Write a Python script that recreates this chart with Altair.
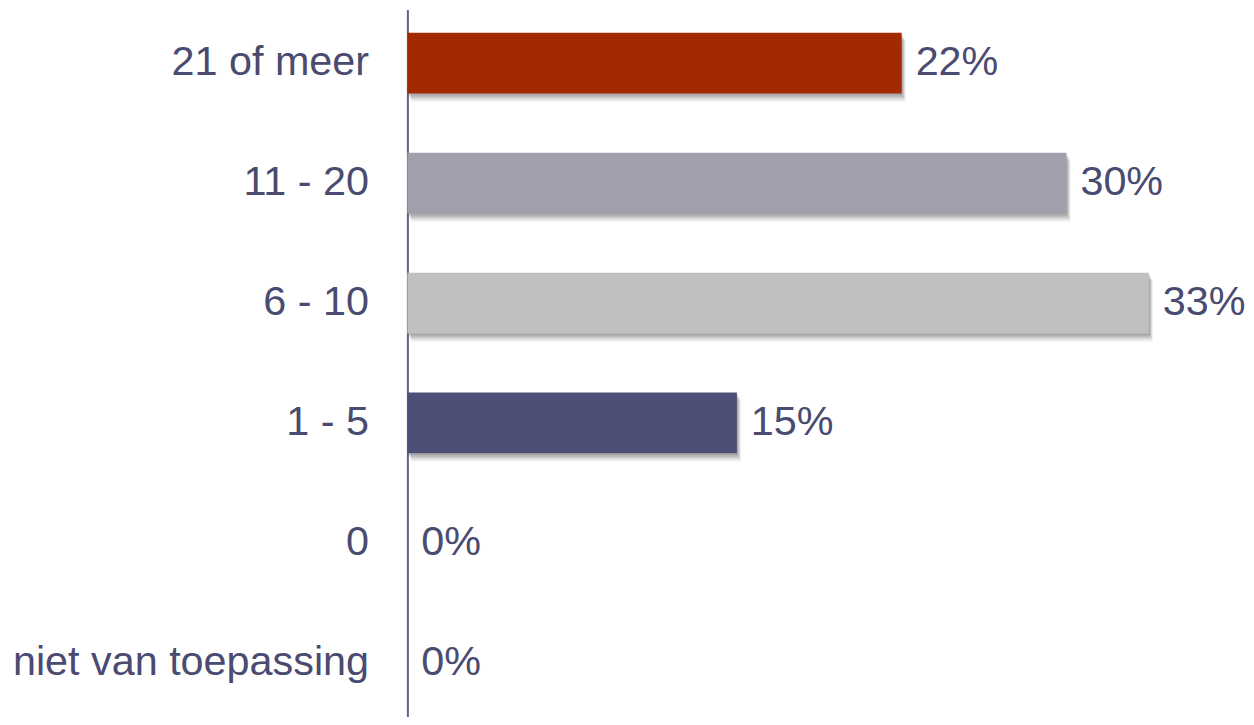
import altair as alt
import pandas as pd

categories = ["21 of meer", "11 - 20", "6 - 10", "1 - 5", "0", "niet van toepassing"]
shares = [6/27, 8/27, 9/27, 4/27, 0.0, 0.0]
colors = ["#a32900", "#a0a0ac", "#c0c0c0", "#4e4f77", "#4e4f77", "#4e4f77"]

df = pd.DataFrame({"cat": categories, "share": shares, "color": colors})

TEXT = "#4a4b70"
FONT = "Liberation Sans"
FS = 41.5

y_enc = alt.Y("cat:N", sort=categories,
              scale=alt.Scale(paddingInner=0.493, paddingOuter=0.195),
              axis=alt.Axis(title=None, ticks=False, grid=False, labelFontSize=FS,
                            labelFont=FONT, labelColor=TEXT, labelPadding=39,
                            domainColor="#62628a", domainWidth=2, labelLimit=600))
x_enc = alt.X("share:Q", scale=alt.Scale(domain=[0, 0.36], nice=False), axis=None)

base = alt.Chart(df)

shadows = []
for dx, dy, op in [(1, 2, 0.2), (2, 4, 0.2), (3, 6, 0.15), (4, 8, 0.1)]:
    shadows.append(
        base.transform_filter("datum.share > 0").mark_bar(
            color="#555555", opacity=op, xOffset=dx, x2Offset=0, yOffset=dy, size=61
        ).encode(y=y_enc, x=x_enc)
    )

bars = base.mark_bar(size=61).encode(
    y=y_enc, x=x_enc, color=alt.Color("color:N", scale=None)
)

labels = base.mark_text(align="left", baseline="middle", dx=14, fontSize=FS,
                        font=FONT, color=TEXT).encode(
    y=y_enc, x=x_enc, text=alt.Text("share:Q", format=".0%")
)

chart = alt.layer(*shadows, bars, labels).properties(
    width=804, height=710,
    autosize=alt.AutoSizeParams(type="none"),
    padding={"left": 401, "top": 0, "right": 38, "bottom": 0},
).configure(background="white", view=alt.ViewConfig(stroke=None))

chart.save("out.html", embed_options={"renderer": "svg", "actions": False})
